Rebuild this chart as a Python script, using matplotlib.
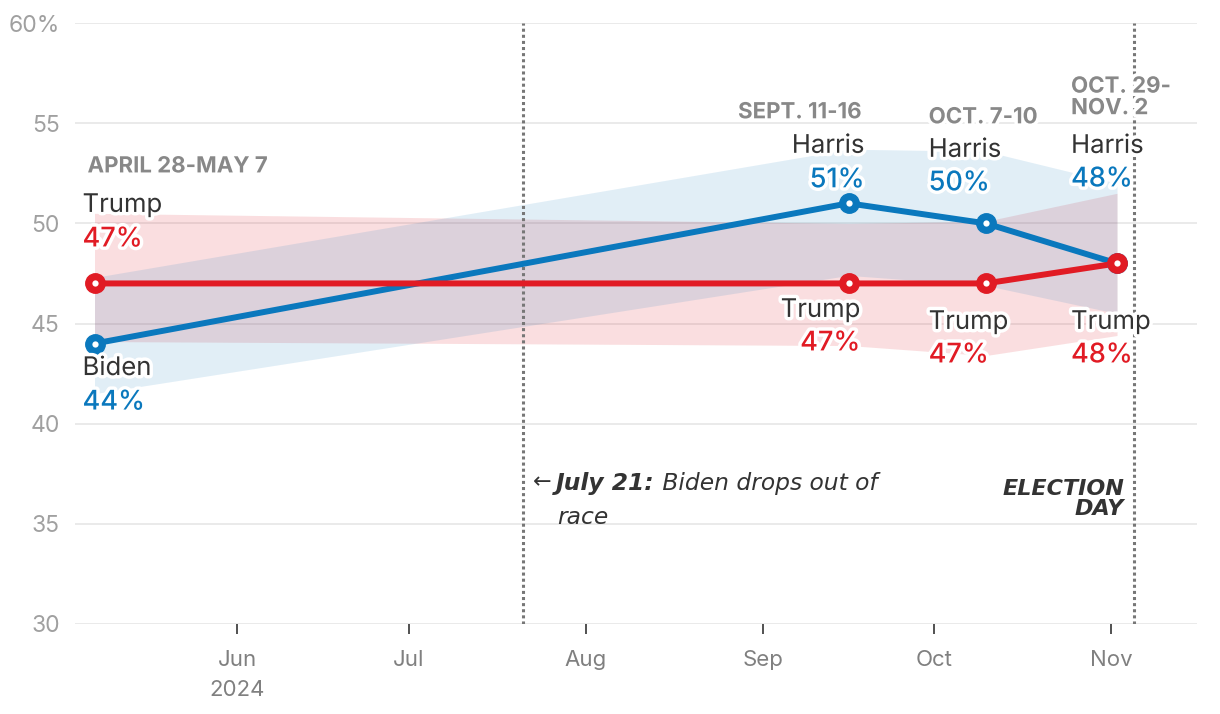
import datetime as dt
import matplotlib
matplotlib.use("Agg")
import matplotlib.pyplot as plt
import matplotlib.patheffects as pe

# poll end dates and results
poll_dates = ["2024-05-07", "2024-09-16", "2024-10-10", "2024-11-02"]
dem = [44, 51, 50, 48]
dem_low = [41.5, 47.4, 46.9, 45.5]
dem_high = [47.3, 53.7, 53.6, 52.0]
rep = [47, 47, 47, 48]
rep_low = [44.1, 43.9, 43.4, 44.4]
rep_high = [50.5, 50.0, 50.1, 51.5]
dem_names = ["Biden", "Harris", "Harris", "Harris"]
poll_labels = ["APRIL 28-MAY 7", "SEPT. 11-16", "OCT. 7-10", "OCT. 29-\nNOV. 2"]
dropout_date = "2024-07-21"
election_date = "2024-11-05"
month_ticks = ["2024-06-01", "2024-07-01", "2024-08-01", "2024-09-01", "2024-10-01", "2024-11-01"]
month_labels = ["Jun\n2024", "Jul", "Aug", "Sep", "Oct", "Nov"]
y_ticks = [30, 35, 40, 45, 50, 55, 60]
y_labels = ["30", "35", "40", "45", "50", "55", "60%"]

RED = "#e11b24"
BLUE = "#0a78bd"
GRAY = "#888888"
DARK = "#333333"

plt.rcParams["font.family"] = ["Inter", "DejaVu Sans"]

def d(s):
    return dt.datetime.strptime(s, "%Y-%m-%d")

xs = [d(s) for s in poll_dates]

fig = plt.figure(figsize=(12.2, 7.14), dpi=100)
ax = fig.add_axes([75 / 1220, 1 - 624 / 714, (1197 - 75) / 1220, (624 - 23) / 714])

ax.fill_between(xs, rep_low, rep_high, color=RED, alpha=0.14, lw=0)
ax.fill_between(xs, dem_low, dem_high, color=BLUE, alpha=0.12, lw=0)

for s in [dropout_date, election_date]:
    ax.axvline(d(s), color="#777777", lw=2.2, ls=(0, (1, 1)), zorder=2)

ax.plot(xs, dem, color=BLUE, lw=4.3, zorder=3, solid_capstyle="round")
ax.plot(xs, rep, color=RED, lw=4.3, zorder=4, solid_capstyle="round")
for vals, col, z in [(dem, BLUE, 5), (rep, RED, 6)]:
    ax.plot(xs, vals, "o", color=col, ms=14, mec=col, zorder=z)
    ax.plot(xs, vals, "o", color="white", ms=4.5, mew=0, zorder=z)

ax.set_xlim(d("2024-05-03") + dt.timedelta(hours=14), d("2024-11-16"))
ax.set_ylim(30, 60)
ax.set_yticks(y_ticks)
ax.set_yticklabels(y_labels)
ax.set_xticks([d(s) for s in month_ticks])
ax.set_xticklabels(month_labels)
ax.tick_params(axis="y", length=0, pad=11, labelsize=16.5, labelcolor="#a0a0a0")
ax.tick_params(axis="x", length=7, width=1.2, color=DARK, pad=12,
               labelsize=16, labelcolor="#808080")
for lab in ax.get_xticklabels():
    lab.set_linespacing(1.6)
ax.grid(axis="y", color="#e4e4e4", lw=1.1)
ax.set_axisbelow(True)
for sp in ax.spines.values():
    sp.set_visible(False)

outline = [pe.withStroke(linewidth=5, foreground="white")]

NS = 18.5  # name size
HS = 16    # header size
PS = 19.5  # percent size

def label(i, val, dx, dy, text, color, ha="left", size=NS, weight="normal"):
    # dx, dy in pixels relative to the point
    ax.annotate(text, xy=(xs[i], val), xytext=(dx * 0.72, dy * 0.72),
                textcoords="offset points", ha=ha, va="center", color=color,
                fontsize=size, fontweight=weight,
                path_effects=outline, zorder=8, linespacing=1.1)

# May 7
label(0, rep[0], -7, 117, poll_labels[0], GRAY, size=HS, weight="bold")
label(0, rep[0], -12, 78, "Trump", DARK)
label(0, rep[0], -12, 44, f"{rep[0]}%", RED, size=PS, weight="medium")
label(0, dem[0], -12, -25, dem_names[0], DARK)
label(0, dem[0], -12, -59, f"{dem[0]}%", BLUE, size=PS, weight="medium")
# Sept 16
label(1, dem[1], 13, 91, poll_labels[1], GRAY, ha="right", size=HS, weight="bold")
label(1, dem[1], 16, 57, dem_names[1], DARK, ha="right")
label(1, dem[1], 16, 23, f"{dem[1]}%", BLUE, ha="right", size=PS, weight="medium")
label(1, rep[1], 12, -27, "Trump", DARK, ha="right")
label(1, rep[1], 12, -60, f"{rep[1]}%", RED, ha="right", size=PS, weight="medium")
# Oct 10
label(2, dem[2], -57, 106, poll_labels[2], GRAY, size=HS, weight="bold")
label(2, dem[2], -57, 73, dem_names[2], DARK)
label(2, dem[2], -57, 40, f"{dem[2]}%", BLUE, size=PS, weight="medium")
label(2, rep[2], -57, -39, "Trump", DARK)
label(2, rep[2], -57, -72, f"{rep[2]}%", RED, size=PS, weight="medium")
# Nov 2
label(3, dem[3], -46, 166, poll_labels[3], GRAY, size=HS, weight="bold")
label(3, dem[3], -46, 117, dem_names[3], DARK)
label(3, dem[3], -46, 84, f"{dem[3]}%", BLUE, size=PS, weight="medium")
label(3, rep[3], -46, -59, "Trump", DARK)
label(3, rep[3], -46, -92, f"{rep[3]}%", RED, size=PS, weight="medium")

# event notes
NOTE = ["DejaVu Sans"]
ax.annotate("\u2190", xy=(d(dropout_date), 37), xytext=(10 * 0.72, 2 * 0.72),
            textcoords="offset points", ha="left", va="center", fontsize=16, color=DARK,
            family="DejaVu Sans")
t1 = ax.annotate("July 21:", xy=(d(dropout_date), 37), xytext=(33 * 0.72, 0),
                 textcoords="offset points", ha="left", va="center", fontsize=16.8,
                 fontweight="bold", fontstyle="italic", color=DARK, family=NOTE)
ax.annotate(" Biden drops out of", xy=(1, 0.5), xycoords=t1,
            ha="left", va="center", fontsize=16.8, fontstyle="italic", color=DARK, family=NOTE)
ax.annotate("race", xy=(d(dropout_date), 37), xytext=(34 * 0.72, -34 * 0.72),
            textcoords="offset points", ha="left", va="center", fontsize=16.8,
            fontstyle="italic", color=DARK, family=NOTE)
ax.annotate("ELECTION\nDAY", xy=(d(election_date), 37), xytext=(-10 * 0.72, -15 * 0.72),
            textcoords="offset points", ha="right", va="center", fontsize=16,
            fontweight="bold", fontstyle="italic", color=DARK, linespacing=1.0,
            family=NOTE)

fig.savefig("out.png", dpi=100)
